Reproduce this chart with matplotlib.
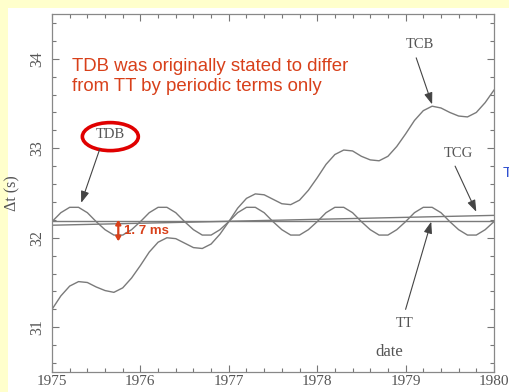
import matplotlib
matplotlib.use("Agg")
import matplotlib.pyplot as plt
from matplotlib.patches import Rectangle, Ellipse
from matplotlib.ticker import MultipleLocator

dates = [1975.0, 1975.1, 1975.2, 1975.3, 1975.4, 1975.5, 1975.6, 1975.7, 1975.8, 1975.9,
         1976.0, 1976.1, 1976.2, 1976.3, 1976.4, 1976.5, 1976.6, 1976.7, 1976.8, 1976.9,
         1977.0, 1977.1, 1977.2, 1977.3, 1977.4, 1977.5, 1977.6, 1977.7, 1977.8, 1977.9,
         1978.0, 1978.1, 1978.2, 1978.3, 1978.4, 1978.5, 1978.6, 1978.7, 1978.8, 1978.9,
         1979.0, 1979.1, 1979.2, 1979.3, 1979.4, 1979.5, 1979.6, 1979.7, 1979.8, 1979.9,
         1980.0]

tdb = [32.18, 32.28, 32.34, 32.34, 32.28, 32.18, 32.09, 32.03, 32.03, 32.09,
       32.18, 32.28, 32.34, 32.34, 32.28, 32.18, 32.09, 32.03, 32.03, 32.09,
       32.18, 32.28, 32.34, 32.34, 32.28, 32.18, 32.09, 32.03, 32.03, 32.09,
       32.18, 32.28, 32.34, 32.34, 32.28, 32.18, 32.09, 32.03, 32.03, 32.09,
       32.18, 32.28, 32.34, 32.34, 32.28, 32.18, 32.09, 32.03, 32.03, 32.09,
       32.18]

tcb = [31.20, 31.35, 31.46, 31.51, 31.50, 31.45, 31.41, 31.39, 31.44, 31.55,
       31.69, 31.84, 31.95, 32.00, 31.99, 31.94, 31.89, 31.88, 31.93, 32.04,
       32.18, 32.33, 32.44, 32.49, 32.48, 32.43, 32.38, 32.37, 32.42, 32.53,
       32.67, 32.82, 32.93, 32.98, 32.97, 32.91, 32.87, 32.86, 32.91, 33.02,
       33.16, 33.31, 33.42, 33.47, 33.45, 33.40, 33.36, 33.35, 33.40, 33.51,
       33.65]

tt_dates = [1975.0, 1980.0]
tt_vals = [32.184, 32.184]
tcg_dates = [1975.0, 1980.0]
tcg_vals = [32.140, 32.250]

xticks = [1975, 1976, 1977, 1978, 1979, 1980]
yticks = [31, 32, 33, 34]

serif = ["Liberation Serif", "DejaVu Serif"]
sans = ["Liberation Sans", "DejaVu Sans"]
gray_txt = "#555555"
line_col = "#7a7a7a"
red = "#d8401a"

fig = plt.figure(figsize=(5.10, 3.92), dpi=100)
fig.patch.set_facecolor("#ffffcc")
fig.patches.append(Rectangle((8 / 510, 0), 1, (392 - 8) / 392, transform=fig.transFigure,
                             facecolor="white", edgecolor="none", zorder=-10))

ax = fig.add_axes([52 / 510, 20 / 392, 442 / 510, 358 / 392])
ax.set_facecolor("white")

for x, y in [(dates, tdb), (dates, tcb), (tt_dates, tt_vals), (tcg_dates, tcg_vals)]:
    ax.plot(x, y, color=line_col, lw=1.0)

ax.set_xlim(1975, 1980)
ax.set_ylim(30.5, 34.5)
ax.set_xticks(xticks)
ax.set_yticks(yticks)
ax.xaxis.set_minor_locator(MultipleLocator(0.2))
ax.yaxis.set_minor_locator(MultipleLocator(0.2))
ax.tick_params(which="both", direction="in", top=True, right=True, color="#777777", width=0.8)
ax.tick_params(which="major", length=5)
ax.tick_params(which="minor", length=3)
ax.tick_params(axis="x", labelsize=11, labelcolor=gray_txt, pad=2)
ax.tick_params(axis="y", labelsize=11.5, labelcolor=gray_txt, pad=5)
for lab in ax.get_xticklabels():
    lab.set_fontfamily(serif)
for lab in ax.get_yticklabels():
    lab.set_fontfamily(serif)
    lab.set_rotation(90)
    lab.set_va("center")
for s in ax.spines.values():
    s.set_color("#888888")
    s.set_linewidth(0.9)

ax.set_ylabel("Δt (s)", fontsize=11.5, color=gray_txt, family=serif, labelpad=6)

arrow = dict(arrowstyle="-|>,head_length=0.7,head_width=0.25", color="#444444", lw=0.8,
             shrinkA=0, shrinkB=0)

ax.text(1975.66, 33.15, "TDB", family=serif, fontsize=10.5, color=gray_txt, ha="center", va="center")
ax.annotate("", xy=(1975.33, 32.39), xytext=(1975.54, 32.99), arrowprops=arrow)
ax.add_patch(Ellipse((1975.66, 33.13), 0.633, 0.313, facecolor="none", edgecolor="#e00000", lw=2.6))

ax.text(1979.16, 34.16, "TCB", family=serif, fontsize=10.5, color=gray_txt, ha="center", va="center")
ax.annotate("", xy=(1979.30, 33.49), xytext=(1979.12, 34.01), arrowprops=arrow)

ax.text(1979.60, 32.94, "TCG", family=serif, fontsize=10.5, color=gray_txt, ha="center", va="center")
ax.annotate("", xy=(1979.80, 32.29), xytext=(1979.56, 32.80), arrowprops=arrow)

ax.text(1978.99, 31.04, "TT", family=serif, fontsize=10.5, color=gray_txt, ha="center", va="center")
ax.annotate("", xy=(1979.29, 32.18), xytext=(1979.00, 31.20), arrowprops=arrow)

ax.text(1978.82, 30.72, "date", family=serif, fontsize=12, color=gray_txt, ha="center", va="center")

ax.text(1975.23, 33.80, "TDB was originally stated to differ\nfrom TT by periodic terms only",
        family=sans, fontsize=13.4, color=red, ha="left", va="center", linespacing=1.2)

ax.annotate("", xy=(1975.75, 31.96), xytext=(1975.75, 32.20),
            arrowprops=dict(arrowstyle="<|-|>,head_length=0.25,head_width=0.15", color=red, lw=1.6,
                            shrinkA=0, shrinkB=0))
ax.text(1975.81, 32.07, "1. 7 ms", family=sans, fontsize=9.5, fontweight="bold", color=red,
        ha="left", va="center")

fig.text(503 / 510, 1 - 173 / 392, "T", family=sans, fontsize=11, color="#3050d0", ha="left", va="center")

fig.savefig("out.png", dpi=100, facecolor=fig.get_facecolor())
